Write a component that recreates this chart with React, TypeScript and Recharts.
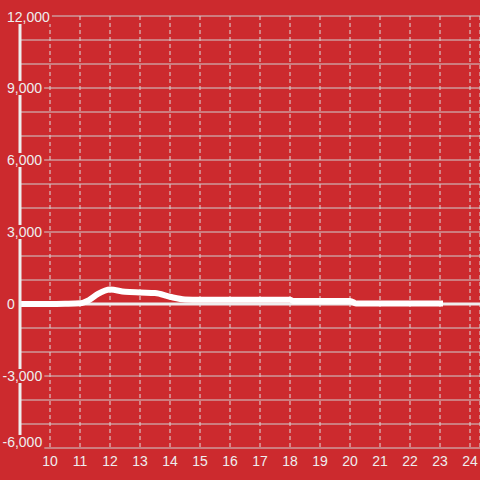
import { CartesianGrid, Line, LineChart, ReferenceLine, XAxis, YAxis } from "recharts";

const hours = [9, 10, 10.5, 11, 11.3, 11.6, 12, 12.5, 13, 13.5, 14, 14.5, 15, 16, 17, 18, 18.1, 19, 20, 20.2, 21, 22, 23.1];
const sales = [0, 0, 10, 30, 160, 420, 600, 510, 480, 460, 300, 190, 180, 180, 180, 180, 130, 130, 130, 25, 20, 20, 20];

const xTicks = [10, 11, 12, 13, 14, 15, 16, 17, 18, 19, 20, 21, 22, 23, 24];
const yTicks = [-6000, -3000, 0, 3000, 6000, 9000, 12000];
const yGrid = [
  -6000, -5000, -4000, -3000, -2000, -1000, 1000, 2000, 3000, 4000, 5000, 6000, 7000, 8000,
  9000, 10000, 11000, 12000,
];

const data = hours.map((h, i) => ({ hour: h, value: sales[i] }));

const BG = "#cc2a2e";
const TEXT = "#eeeeee";

function labelWidth(s: string) {
  let w = 0;
  for (const c of s) w += c === "," ? 3.9 : c === "-" ? 4.7 : 7.8;
  return w;
}

function YTick(props: any) {
  const { y, payload } = props;
  const v = payload.value as number;
  const s = v.toLocaleString("en-US");
  const x = v < 0 ? 2.5 : 7;
  const cy = v === -6000 ? y - 6 : v === 12000 ? y + 1 : y;
  const w = labelWidth(s);
  return (
    <g>
      <rect x={x - 2} y={cy - 7} width={w + 4} height={14} fill={BG} />
      <text x={x} y={cy} dy={5} fill={TEXT} fontSize={14} textAnchor="start">
        {s}
      </text>
    </g>
  );
}

export default function App() {
  return (
    <div style={{ position: "absolute", left: 0, top: 0, width: 480, height: 480, background: BG }}>
      <LineChart
        width={480}
        height={480}
        data={data}
        margin={{ top: 16, right: 0, left: 0, bottom: 0 }}
        style={{ fontFamily: "'Liberation Sans', Arial, sans-serif" }}
      >
        <CartesianGrid horizontal={false} stroke="#dddddd" strokeDasharray="4 3" />
        {yGrid.map((v) => (
          <ReferenceLine key={v} y={v} stroke="#cfcfcf" strokeWidth={1} />
        ))}
        <ReferenceLine y={0} stroke="#eeeeee" strokeWidth={3} />
        <XAxis
          dataKey="hour"
          type="number"
          domain={[9, 24.333]}
          ticks={xTicks}
          interval={0}
          allowDataOverflow
          axisLine={false}
          tickLine={false}
          height={32}
          tick={{ fill: TEXT, fontSize: 14 }}
        />
        <Line
          type="monotone"
          dataKey="value"
          stroke="#ffffff"
          strokeWidth={6}
          dot={false}
          isAnimationActive={false}
        />
        <YAxis
          type="number"
          domain={[-6000, 12000]}
          ticks={yTicks}
          interval={0}
          width={20}
          axisLine={{ stroke: "#eeeeee", strokeWidth: 3 }}
          tickLine={false}
          tick={<YTick />}
        />
      </LineChart>
    </div>
  );
}
